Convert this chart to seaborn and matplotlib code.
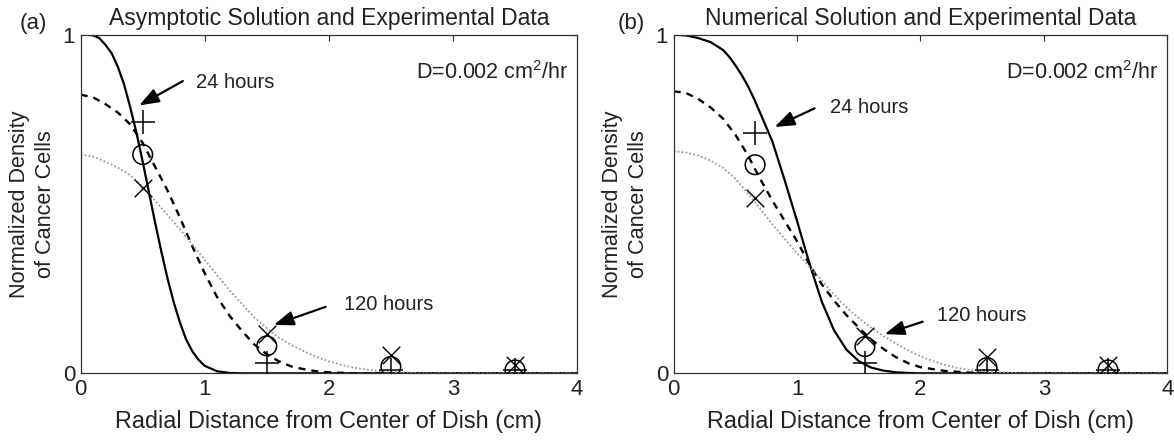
import numpy as np
import pandas as pd
import matplotlib
matplotlib.use('Agg')
import matplotlib.pyplot as plt
import seaborn as sns

# measured marker positions (cm) and densities
meas_x_a = [0.5, 1.5, 2.5, 3.5]
meas_x_b = [0.66, 1.55, 2.54, 3.52]
plus_a = [0.742, 0.03, 0.01, 0.01]
circ_a = [0.646, 0.081, 0.02, 0.01]
cross_a = [0.548, 0.115, 0.054, 0.025]
plus_b = [0.71, 0.03, 0.01, 0.01]
circ_b = [0.616, 0.079, 0.017, 0.01]
cross_b = [0.518, 0.11, 0.049, 0.025]

# (a) asymptotic solution curves
solid_x_a = [0, 0.05, 0.1, 0.15, 0.2, 0.25, 0.3, 0.35, 0.4, 0.45, 0.5, 0.55, 0.6, 0.65, 0.7, 0.75, 0.8, 0.85, 0.9, 0.95, 1.0, 1.1, 1.2, 1.3, 4.0]
solid_y_a = [1.0, 1.0, 0.998, 0.99, 0.97, 0.945, 0.905, 0.853, 0.785, 0.71, 0.625, 0.535, 0.445, 0.36, 0.28, 0.21, 0.15, 0.1, 0.065, 0.04, 0.022, 0.006, 0.001, 0, 0]
dash_x_a = [0, 0.1, 0.2, 0.3, 0.4, 0.5, 0.6, 0.7, 0.8, 0.9, 1.0, 1.1, 1.2, 1.3, 1.4, 1.5, 1.6, 1.7, 1.8, 1.9, 2.0, 2.2, 4.0]
dash_y_a = [0.823, 0.815, 0.795, 0.77, 0.735, 0.68, 0.61, 0.54, 0.46, 0.375, 0.295, 0.225, 0.17, 0.125, 0.085, 0.056, 0.035, 0.02, 0.012, 0.006, 0.003, 0.0, 0]
dot_x_a = [0, 0.1, 0.2, 0.3, 0.4, 0.5, 0.6, 0.7, 0.8, 0.9, 1.0, 1.1, 1.2, 1.3, 1.4, 1.5, 1.6, 1.7, 1.8, 1.9, 2.0, 2.1, 2.2, 2.3, 2.4, 2.6, 2.8, 4.0]
dot_y_a = [0.646, 0.64, 0.625, 0.607, 0.585, 0.55, 0.51, 0.468, 0.425, 0.38, 0.335, 0.29, 0.245, 0.205, 0.165, 0.133, 0.105, 0.083, 0.065, 0.049, 0.035, 0.025, 0.017, 0.011, 0.007, 0.002, 0.0, 0]

# (b) numerical solution curves
solid_x_b = [0, 0.1, 0.2, 0.3, 0.4, 0.45, 0.5, 0.55, 0.6, 0.65, 0.7, 0.8, 0.9, 1.0, 1.1, 1.2, 1.3, 1.4, 1.5, 1.6, 1.7, 1.8, 1.9, 2.0, 4.0]
solid_y_b = [1.0, 0.998, 0.99, 0.978, 0.955, 0.935, 0.91, 0.882, 0.85, 0.812, 0.77, 0.685, 0.57, 0.45, 0.325, 0.212, 0.127, 0.07, 0.036, 0.017, 0.008, 0.003, 0.001, 0, 0]
dash_x_b = [0, 0.1, 0.2, 0.3, 0.4, 0.5, 0.6, 0.7, 0.8, 0.9, 1.0, 1.1, 1.2, 1.3, 1.4, 1.5, 1.6, 1.7, 1.8, 1.9, 2.0, 2.2, 2.4, 2.6, 4.0]
dash_y_b = [0.833, 0.828, 0.81, 0.785, 0.752, 0.705, 0.645, 0.575, 0.51, 0.45, 0.39, 0.322, 0.263, 0.215, 0.172, 0.135, 0.1, 0.072, 0.048, 0.03, 0.018, 0.007, 0.002, 0, 0]
dot_x_b = [0, 0.1, 0.2, 0.3, 0.4, 0.5, 0.6, 0.7, 0.8, 0.9, 1.0, 1.1, 1.2, 1.3, 1.4, 1.5, 1.6, 1.7, 1.8, 1.9, 2.0, 2.1, 2.2, 2.3, 2.4, 2.6, 2.8, 4.0]
dot_y_b = [0.656, 0.652, 0.643, 0.628, 0.607, 0.575, 0.532, 0.487, 0.44, 0.397, 0.355, 0.315, 0.275, 0.232, 0.195, 0.163, 0.135, 0.11, 0.088, 0.068, 0.05, 0.036, 0.025, 0.016, 0.01, 0.003, 0, 0]

titles = ['Asymptotic Solution and Experimental Data', 'Numerical Solution and Experimental Data']
panel_tags = ['(a)', '(b)']
tag_x = [20, 618]
x_label = 'Radial Distance from Center of Dish (cm)'
y_label = 'Normalized Density\nof Cancer Cells'
d_text = 'D=0.002 cm$^2$/hr'

sns.set_style('white')
plt.rcParams['font.family'] = ['Liberation Sans', 'DejaVu Sans']
plt.rcParams['mathtext.fontset'] = 'custom'
plt.rcParams['mathtext.rm'] = 'Liberation Sans'

fig = plt.figure(figsize=(11.74, 4.41), dpi=100)
ax_a = fig.add_axes([0.0687, 0.1535, 0.4228, 0.7678])
ax_b = fig.add_axes([0.5738, 0.1535, 0.4204, 0.7678])

text_col = '#222222'
arrow_style = '-|>,head_length=0.6,head_width=0.22'


def draw_panel(ax, sx, sy, dx, dy, tx, ty, mx, plus, circ, cross):
    sns.lineplot(x=sx, y=sy, ax=ax, color='black', linewidth=1.6, sort=False)
    sns.lineplot(x=dx, y=dy, ax=ax, color='black', linewidth=1.7, linestyle=(0, (3, 2.5)), sort=False)
    sns.lineplot(x=tx, y=ty, ax=ax, color='#9a9a9a', linewidth=1.3, linestyle=(0, (1, 1.2)), sort=False)
    sns.scatterplot(x=mx, y=plus, ax=ax, marker='+', s=300, color='black', linewidth=1.1, zorder=5)
    sns.scatterplot(x=mx, y=circ, ax=ax, marker='o', s=200, facecolor='none', edgecolor='black', linewidth=1.1, zorder=5)
    sns.scatterplot(x=mx, y=cross, ax=ax, marker='x', s=160, color='black', linewidth=1.0, zorder=5)


draw_panel(ax_a, solid_x_a, solid_y_a, dash_x_a, dash_y_a, dot_x_a, dot_y_a, meas_x_a, plus_a, circ_a, cross_a)
draw_panel(ax_b, solid_x_b, solid_y_b, dash_x_b, dash_y_b, dot_x_b, dot_y_b, meas_x_b, plus_b, circ_b, cross_b)

for ax, title, tag, tx in zip([ax_a, ax_b], titles, panel_tags, tag_x):
    ax.set_xlim(0, 4)
    ax.set_ylim(0, 1)
    ax.set_xticks([0, 1, 2, 3, 4])
    ax.set_yticks([0, 1])
    ax.set_xticklabels(['0', '1', '2', '3', '4'])
    ax.set_yticklabels(['0', '1'])
    ax.tick_params(direction='in', top=True, right=True, length=4, width=0.8, labelsize=16, pad=4, color='#333333', labelcolor=text_col)
    for sp in ax.spines.values():
        sp.set_color('#333333')
        sp.set_linewidth(0.9)
    ax.set_title(title, fontsize=16.5, pad=7, color=text_col)
    ax.set_xlabel(x_label, fontsize=16.8, labelpad=7, color=text_col)
    ax.set_ylabel(y_label, fontsize=15.6, color=text_col, linespacing=1.3)
    ax.yaxis.set_label_coords(-0.05, 0.5)
    fig.text(tx / 1174, 1 - 23 / 441, tag, fontsize=16, color=text_col, va='center', ha='left')
    ax.text(3.93, 0.887, d_text, fontsize=15.5, ha='right', va='center', color=text_col)

# annotations (a)
ax_a.annotate('', xy=(0.451, 0.787), xytext=(0.843, 0.867),
              arrowprops=dict(arrowstyle=arrow_style, color='black', lw=1.6, mutation_scale=20))
ax_a.text(0.93, 0.858, '24 hours', fontsize=14.5, va='center', color=text_col)
ax_a.annotate('', xy=(1.535, 0.14), xytext=(1.995, 0.199),
              arrowprops=dict(arrowstyle=arrow_style, color='black', lw=1.6, mutation_scale=20))
ax_a.text(2.12, 0.202, '120 hours', fontsize=14.5, va='center', color=text_col)

# annotations (b)
ax_b.annotate('', xy=(0.798, 0.724), xytext=(1.163, 0.786),
              arrowprops=dict(arrowstyle=arrow_style, color='black', lw=1.6, mutation_scale=20))
ax_b.text(1.268, 0.785, '24 hours', fontsize=14.5, va='center', color=text_col)
ax_b.annotate('', xy=(1.688, 0.113), xytext=(2.04, 0.155),
              arrowprops=dict(arrowstyle=arrow_style, color='black', lw=1.6, mutation_scale=20))
ax_b.text(2.135, 0.172, '120 hours', fontsize=14.5, va='center', color=text_col)

fig.savefig('out.png', dpi=100)
